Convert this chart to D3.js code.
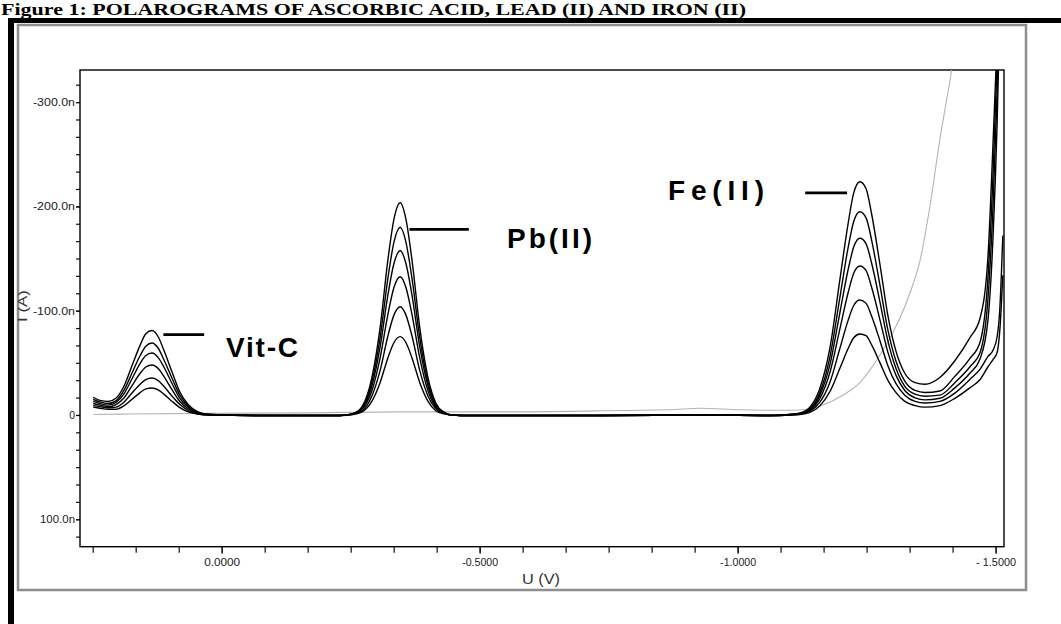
<!DOCTYPE html>
<html>
<head>
<meta charset="utf-8">
<script src="https://d3js.org/d3.v7.min.js"></script>
<style>
body { margin:0; background:#fff; }
.tick text { font-family: Arial, "Liberation Sans", sans-serif; }
</style>
</head>
<body>
<div id="viz1"></div>
<script>
// potential grid (V) shared by the six sample polarograms
var voltage = [0.249, 0.236, 0.220, 0.205, 0.189, 0.174, 0.158, 0.147, 0.135, 0.123, 0.112, 0.096, 0.081, 0.065, 0.046, 0.023,
	-0.074,
	-0.229, -0.253, -0.272, -0.291, -0.307, -0.322, -0.334, -0.346, -0.357, -0.369, -0.384, -0.400, -0.415, -0.431, -0.446, -0.481,
	-0.733, -0.927,
	-1.063, -1.101, -1.121, -1.140, -1.159, -1.179, -1.198, -1.214, -1.225, -1.237, -1.249, -1.260, -1.276, -1.291, -1.307, -1.324,
	-1.344, -1.363, -1.392, -1.421, -1.450, -1.470, -1.485, -1.495, -1.503, -1.508, -1.514];

// currents in nA (negative = up)
var sample1 = [-7.5, -6.5, -5.5, -5.5, -9, -15, -21.5, -25, -25.9, -24, -20, -13, -7, -3, -1, 0,
	0.5,
	0.5, -0.5, -3, -13, -31, -54.5, -69.5, -75.1, -69.5, -54.5, -31, -13, -4, -1, 0, 0.5,
	0.5, 0,
	0.5, 0, -0.5, -2.5, -8.5, -22.5, -44.5, -63.5, -74, -77.7, -76, -67, -50, -33.5, -21.5, -13,
	-9, -7.5, -9, -16, -26, -34, -46, -53, -60, -80, -134];
var sample2 = [-9, -8, -7, -7.5, -12.5, -21, -29.5, -34, -35.5, -33, -27.5, -18, -10, -4.5, -1, 0,
	0.5,
	0.5, -0.5, -4, -18, -42.5, -75.5, -96, -103.8, -96, -75.5, -42.5, -18, -6, -1.5, 0, 0.5,
	0.5, 0,
	0.5, 0, -1, -3.5, -12, -31.5, -63.5, -90.5, -105, -110.3, -107, -94.5, -71, -47.5, -30, -19,
	-13, -11.5, -13, -21, -34, -44, -56, -62, -75, -100, -172];
var sample3 = [-11, -9.5, -8, -10, -16.5, -28, -40, -46, -47.9, -44.5, -37, -24, -13, -6, -1.5, 0,
	0.5,
	0.5, -1, -5.5, -23, -54.5, -96, -122.5, -132.6, -122.5, -96, -54.5, -23, -7.5, -2, 0, 0.5,
	0.5, 0,
	0.5, 0, -1, -4.5, -15.5, -41, -82, -117, -136, -142.9, -138.5, -122, -91, -60.5, -38, -23.5,
	-16.5, -14.5, -16, -26, -40, -54, -90, -170, -280, -380, -460];
var sample4 = [-13, -11, -9.5, -12, -20.5, -34.5, -49.5, -57, -59.4, -55, -46, -30, -16, -7.5, -2, -0.5,
	0.5,
	0.5, -1, -6.5, -27.5, -65, -114.5, -145.5, -157.5, -145.5, -114.5, -65, -27.5, -9, -2, 0, 0.5,
	0.5, 0,
	0.5, -0.5, -1, -5, -18.5, -48.5, -97.5, -139, -161, -169.4, -164, -145, -108, -71.5, -44.5, -27.5,
	-20, -18, -19, -31, -46, -60, -110, -200, -310, -400, -470];
var sample5 = [-15, -12.5, -11, -13.5, -24, -40, -57, -66, -69, -64, -53, -35, -19, -8.5, -2.5, -0.5,
	0.5,
	0.5, -1, -7, -31.5, -74, -130.5, -166, -180, -166, -130.5, -74, -31.5, -10, -2.5, 0, 0.5,
	0.5, 0,
	0.5, -0.5, -1.5, -6, -21, -56, -112, -160, -185.5, -194.9, -189, -167, -124, -82, -51.5, -32.5,
	-23.5, -21.5, -23, -37, -54, -70, -130, -230, -340, -420, -480];
var sample6 = [-17, -14, -13, -16, -28, -47, -67, -78, -81, -75, -62, -41, -22, -10, -3, -0.5,
	0.5,
	0.5, -1, -8, -35.5, -83.5, -148, -188, -203.5, -188, -148, -83.5, -35.5, -11.5, -2.5, 0, 0.5,
	0.5, 0,
	0.5, -0.5, -2, -7.5, -25, -64.5, -129, -183, -213, -223.7, -217, -192, -144, -96, -61, -40,
	-31, -29.5, -36, -52, -74, -93, -150, -260, -360, -420, -480];

// supporting electrolyte blank (grey)
var blankVoltage = [0.249, 0.178, 0.042, -0.152, -0.346, -0.539, -0.733, -0.888, -0.927, -1.004, -1.082, -1.127,
	-1.159, -1.204, -1.237, -1.270, -1.301, -1.334, -1.354, -1.373, -1.392, -1.415, -1.421];
var blankCurrent = [-0.5, -1, -1.5, -2, -3, -3, -4, -5.5, -6.5, -5, -4.5, -5,
	-8.5, -19, -31, -53, -79, -117, -149, -201, -264, -331, -350];

var xMajor = [0, -0.5, -1.0, -1.5];
var xLabels = ["0.0000", "-0.5000", "-1.0000", "- 1.5000"];
var yMajor = [-300, -200, -100, 0, 100];
var yLabels = ["-300.0n", "-200.0n", "-100.0n", "0", "100.0n"];

var peakNames = ["Vit-C", "Pb(II)", "Fe(II)"];

var svg = d3.select('#viz1').append("svg")
	.attr('width', 1061)
	.attr('height', 624);

svg.append('rect').attr('width', 1061).attr('height', 624).style('fill', '#fff');

// title
svg.append('text')
	.attr('x', 1).attr('y', 15)
	.attr('textLength', 745).attr('lengthAdjust', 'spacingAndGlyphs')
	.style('font-family', '"Liberation Serif", "Times New Roman", serif')
	.style('font-weight', 'bold')
	.style('font-size', '16.5px')
	.text("Figure 1: POLAROGRAMS OF ASCORBIC ACID, LEAD (II) AND IRON (II)");

// thick black borders
svg.append('rect').attr('x', 8).attr('y', 18).attr('width', 1053).attr('height', 5).style('fill', '#000');
svg.append('rect').attr('x', 8).attr('y', 18).attr('width', 6).attr('height', 606).style('fill', '#000');

// grey panel frame
svg.append('rect')
	.attr('x', 18).attr('y', 25).attr('width', 1008).attr('height', 565)
	.style('fill', 'none').style('stroke', '#8e8e8e').style('stroke-width', 2.5);

var x = d3.scaleLinear().domain([0.2746, -1.5163]).range([80, 1004]);
var y = d3.scaleLinear().domain([-330.8, 126.3]).range([70, 546.7]);

// minor ticks: 6 per major step
var xMinor = d3.range(0.25, -1.52, -0.5 / 6);
var yMinor = d3.range(-316.7, 130, 100 / 6);

svg.append('g')
	.attr('transform', 'translate(0,546.7)')
	.call(d3.axisBottom(x).tickValues(xMinor).tickSize(6).tickFormat(''))
	.call(g => g.select('.domain').remove())
	.call(g => g.selectAll('line').style('stroke', '#111').style('stroke-width', 1.2));

var xAxis = svg.append('g')
	.attr('transform', 'translate(0,546.7)')
	.call(d3.axisBottom(x).tickValues(xMajor).tickSize(7).tickPadding(5)
		.tickFormat((d, i) => xLabels[i]))
	.call(g => g.select('.domain').remove());
xAxis.selectAll('line').style('stroke', '#111').style('stroke-width', 1.2);
xAxis.selectAll('text')
	.style('font-size', '10.5px').style('fill', '#222')
	.attr('textLength', (d, i) => i == 3 ? 40 : 36)
	.attr('lengthAdjust', 'spacingAndGlyphs');

svg.append('g')
	.attr('transform', 'translate(80,0)')
	.call(d3.axisLeft(y).tickValues(yMinor).tickSize(4).tickFormat(''))
	.call(g => g.select('.domain').remove())
	.call(g => g.selectAll('line').style('stroke', '#111').style('stroke-width', 1.2));

var yAxis = svg.append('g')
	.attr('transform', 'translate(80,0)')
	.call(d3.axisLeft(y).tickValues(yMajor).tickSize(4).tickPadding(1)
		.tickFormat((d, i) => yLabels[i]))
	.call(g => g.select('.domain').remove());
yAxis.selectAll('line').style('stroke', '#111').style('stroke-width', 1.2);
yAxis.selectAll('text')
	.style('font-size', '10.5px').style('fill', '#222')
	.attr('textLength', (d, i) => i == 3 ? null : (i == 4 ? 35 : 42))
	.attr('lengthAdjust', 'spacingAndGlyphs');

// plot box
svg.append('rect')
	.attr('x', x.range()[0]).attr('y', y.range()[0])
	.attr('width', x.range()[1] - x.range()[0]).attr('height', y.range()[1] - y.range()[0])
	.style('fill', 'none').style('stroke', '#000').style('stroke-width', 1.4);

// axis titles
svg.append('text')
	.attr('x', 541).attr('y', 584)
	.attr('text-anchor', 'middle')
	.attr('textLength', 38).attr('lengthAdjust', 'spacingAndGlyphs')
	.style('font-family', 'Arial, "Liberation Sans", sans-serif')
	.style('font-size', '15px').style('fill', '#333')
	.text('U (V)');
svg.append('text')
	.attr('transform', 'translate(27,306) rotate(-90)')
	.attr('text-anchor', 'middle')
	.attr('textLength', 32).attr('lengthAdjust', 'spacingAndGlyphs')
	.style('font-family', 'Arial, "Liberation Sans", sans-serif')
	.style('font-size', '13px').style('fill', '#333')
	.text('I (A)');

svg.append('clipPath').attr('id', 'plotclip')
	.append('rect')
	.attr('x', 80).attr('y', 70).attr('width', 924).attr('height', 476.7);

var curveLine = d3.line()
	.x(d => x(d[0]))
	.y(d => y(d[1]))
	.curve(d3.curveMonotoneX);

var plot = svg.append('g').attr('clip-path', 'url(#plotclip)');

plot.append('path')
	.datum(blankVoltage.map((v, i) => [v, blankCurrent[i]]))
	.attr('d', curveLine)
	.style('fill', 'none').style('stroke', '#b4b4b4').style('stroke-width', 1.1);

var samples = [sample1, sample2, sample3, sample4, sample5, sample6];
plot.selectAll('.curve')
	.data(samples)
	.enter().append('path')
	.attr('class', 'curve')
	.attr('d', s => curveLine(voltage.map((v, i) => [v, s[i]])))
	.style('fill', 'none').style('stroke', '#000').style('stroke-width', 1.4);

// peak labels with leader bars
var leaders = [[0.113, 0.034], [-0.364, -0.479], [-1.131, -1.212]];
var leaderY = [-77, -178, -213];
leaders.forEach(function(l, i) {
	svg.append('line')
		.attr('x1', x(l[0])).attr('x2', x(l[1]))
		.attr('y1', y(leaderY[i])).attr('y2', y(leaderY[i]))
		.style('stroke', '#000').style('stroke-width', 2.8);
});
var labelWidth = [72, 85, 96];
var labelX = [226, 507, 668];
var labelBase = [357, 248, 200];
peakNames.forEach(function(n, i) {
	svg.append('text')
		.attr('x', labelX[i]).attr('y', labelBase[i])
		.attr('textLength', labelWidth[i]).attr('lengthAdjust', 'spacing')
		.style('font-family', 'Arial, "Liberation Sans", sans-serif')
		.style('font-weight', 'bold')
		.style('font-size', '28px')
		.text(n);
});
</script>
</body>
</html>
